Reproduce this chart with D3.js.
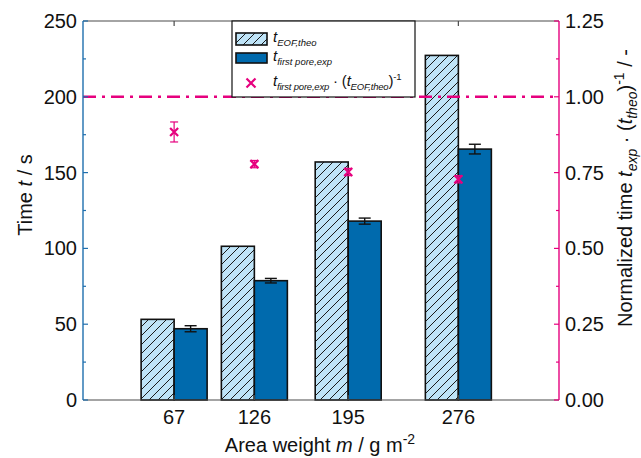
<!DOCTYPE html>
<html>
<head>
<meta charset="utf-8">
<script src="https://cdn.jsdelivr.net/npm/d3@7"></script>
<style>
  html, body { margin: 0; padding: 0; background: #fff; }
  svg { display: block; font-family: "Liberation Sans", Arial, Helvetica, sans-serif; }
</style>
</head>
<body>
<svg id="chart" width="641" height="458"></svg>
<script>
// Area weights of the samples (g m^-2)
const weights = [67, 126, 195, 276];
// Theoretical EOF time (s)
const tTheo = [53.2, 101.4, 157, 227.3];
// Measured time to first pore (s) and its deviation
const tExp = [47, 78.7, 118, 165.5];
const tExpErr = [2, 1.5, 2, 3.2];
// Normalised time t_exp / t_theo and its deviation
const ratio = [0.884, 0.778, 0.752, 0.728];
const ratioErr = [0.033, 0.012, 0.012, 0.012];
// Axis ticks
const leftTicks = [0, 50, 100, 150, 200, 250];
const rightTicks = [0, 0.25, 0.5, 0.75, 1.0, 1.25];
const referenceLevel = 1.0;

const PINK = "#e6007e";
const BLUE_AX = "#1f6fae";
const SOLID = "#006aad";
const LIGHT = "#bfe4f8";
const GREY = "#4a4a4a";
const FS = 20;

const svg = d3.select("#chart");
const L = 83, R = 559, T = 21, B = 400;

const x = d3.scaleLinear().domain([0, 350]).range([L, R]);
const y = d3.scaleLinear().domain([0, 250]).range([B, T]);
const y2 = d3.scaleLinear().domain([0, 1.25]).range([B, T]);

// hatch pattern
const defs = svg.append("defs");
const pat = defs.append("pattern")
  .attr("id", "hatch").attr("patternUnits", "userSpaceOnUse")
  .attr("width", 9).attr("height", 9);
pat.append("rect").attr("width", 9).attr("height", 9).attr("fill", LIGHT);
pat.append("path").attr("d", "M-2,2 L2,-2 M0,9 L9,0 M7,11 L11,7")
  .attr("stroke", "#1a1a1a").attr("stroke-width", 1);

const bw = 33;
const data = weights.map((w, i) => ({ w, theo: tTheo[i], exp: tExp[i], err: tExpErr[i], r: ratio[i], rErr: ratioErr[i] }));

// bars
const g = svg.append("g");
g.selectAll("rect.theo").data(data).join("rect")
  .attr("x", d => x(d.w) - bw).attr("width", bw)
  .attr("y", d => y(d.theo)).attr("height", d => y(0) - y(d.theo))
  .attr("fill", "url(#hatch)").attr("stroke", "#111").attr("stroke-width", 1.6);
g.selectAll("rect.exp").data(data).join("rect")
  .attr("x", d => x(d.w)).attr("width", bw)
  .attr("y", d => y(d.exp)).attr("height", d => y(0) - y(d.exp))
  .attr("fill", SOLID).attr("stroke", "#111").attr("stroke-width", 1.6);

// error bars on measured times
const eb = g.selectAll("g.eb").data(data).join("g")
  .attr("stroke", "#111").attr("stroke-width", 1.4);
eb.append("line").attr("x1", d => x(d.w) + bw / 2).attr("x2", d => x(d.w) + bw / 2)
  .attr("y1", d => y(d.exp - d.err)).attr("y2", d => y(d.exp + d.err));
[1, -1].forEach(s => {
  eb.append("line").attr("x1", d => x(d.w) + bw / 2 - 6).attr("x2", d => x(d.w) + bw / 2 + 6)
    .attr("y1", d => y(d.exp + s * d.err)).attr("y2", d => y(d.exp + s * d.err));
});

// reference line at 1.00
svg.append("line").attr("x1", L).attr("x2", R)
  .attr("y1", y2(referenceLevel)).attr("y2", y2(referenceLevel))
  .attr("stroke", PINK).attr("stroke-width", 2.6).attr("stroke-dasharray", "13,6,3,6");

// frame: top and bottom
svg.append("line").attr("x1", L).attr("x2", R).attr("y1", T).attr("y2", T).attr("stroke", GREY).attr("stroke-width", 1.2);
svg.append("line").attr("x1", L).attr("x2", R).attr("y1", B).attr("y2", B).attr("stroke", GREY).attr("stroke-width", 1.2);

// x ticks (inward, top and bottom)
weights.forEach(w => {
  svg.append("line").attr("x1", x(w)).attr("x2", x(w)).attr("y1", T).attr("y2", T + 5).attr("stroke", GREY).attr("stroke-width", 1.2);
  svg.append("line").attr("x1", x(w)).attr("x2", x(w)).attr("y1", B).attr("y2", B - 5).attr("stroke", GREY).attr("stroke-width", 1.2);
});
svg.append("g").selectAll("text").data(weights).join("text")
  .attr("x", d => x(d)).attr("y", 424).attr("text-anchor", "middle")
  .attr("font-size", FS).attr("fill", "#111").text(d => d);

// left axis
const la = svg.append("g");
la.append("line").attr("x1", L).attr("x2", L).attr("y1", T).attr("y2", B).attr("stroke", BLUE_AX).attr("stroke-width", 1.4);
d3.range(0, 251, 25).forEach(v => {
  const major = v % 50 === 0;
  la.append("line").attr("x1", L).attr("x2", L + (major ? 5 : 3)).attr("y1", y(v)).attr("y2", y(v))
    .attr("stroke", BLUE_AX).attr("stroke-width", 1.2);
});
la.selectAll("text").data(leftTicks).join("text")
  .attr("x", 77).attr("y", d => y(d) + 7).attr("text-anchor", "end")
  .attr("font-size", FS).attr("fill", "#111").text(d => d);

// right axis
const ra = svg.append("g");
ra.append("line").attr("x1", R).attr("x2", R).attr("y1", T).attr("y2", B).attr("stroke", PINK).attr("stroke-width", 1.4);
d3.range(0, 11).forEach(k => {
  const v = k * 0.125;
  const major = k % 2 === 0;
  ra.append("line").attr("x1", R).attr("x2", R - (major ? 5 : 3)).attr("y1", y2(v)).attr("y2", y2(v))
    .attr("stroke", PINK).attr("stroke-width", 1.2);
});
ra.selectAll("text").data(rightTicks).join("text")
  .attr("x", 565).attr("y", d => y2(d) + 7).attr("text-anchor", "start")
  .attr("font-size", FS).attr("fill", "#111").text(d => d3.format(".2f")(d));

// legend
const lg = svg.append("g");
lg.append("rect").attr("x", 232).attr("y", T).attr("width", 183).attr("height", 76)
  .attr("fill", "#fff").attr("stroke", "#111").attr("stroke-width", 1.2);
lg.append("rect").attr("x", 236).attr("y", 33).attr("width", 31).attr("height", 12)
  .attr("fill", "url(#hatch)").attr("stroke", "#111").attr("stroke-width", 1.6);
lg.append("rect").attr("x", 236).attr("y", 53).attr("width", 31).attr("height", 10)
  .attr("fill", SOLID).attr("stroke", "#111").attr("stroke-width", 1.6);

function xMark(sel, cx, cy, s) {
  sel.append("path")
    .attr("d", `M${cx - s},${cy - s}L${cx + s},${cy + s}M${cx - s},${cy + s}L${cx + s},${cy - s}`)
    .attr("stroke", PINK).attr("stroke-width", 2.2).attr("fill", "none");
}
xMark(lg, 251, 83, 4.5);

const LFS = 15, LSUB = 9.5;
function tSub(sel, xx, yy, sub) {
  const t = sel.append("text").attr("x", xx).attr("y", yy).attr("font-size", LFS).attr("fill", "#111")
    .attr("font-style", "italic");
  t.append("tspan").text("t");
  t.append("tspan").attr("font-size", LSUB).attr("dy", 4).text(sub);
  return t;
}
tSub(lg, 273, 42, "EOF,theo");
tSub(lg, 273, 61, "first pore,exp");
{
  const t = lg.append("text").attr("x", 273).attr("y", 86).attr("font-size", LFS).attr("fill", "#111")
    .attr("letter-spacing", -0.2);
  t.append("tspan").attr("font-style", "italic").text("t");
  t.append("tspan").attr("font-style", "italic").attr("font-size", LSUB).attr("dy", 4).text("first pore,exp");
  t.append("tspan").attr("dy", -4).text(" · (");
  t.append("tspan").attr("font-style", "italic").text("t");
  t.append("tspan").attr("font-style", "italic").attr("font-size", LSUB).attr("dy", 4).text("EOF,theo");
  t.append("tspan").attr("dy", -4).text(")");
  t.append("tspan").attr("font-size", LSUB).attr("dy", -6).text("-1");
}

// normalised-time markers with error bars
const mk = svg.append("g");
data.forEach(d => {
  const cx = x(d.w);
  mk.append("line").attr("x1", cx).attr("x2", cx).attr("y1", y2(d.r - d.rErr)).attr("y2", y2(d.r + d.rErr))
    .attr("stroke", PINK).attr("stroke-width", 1.2);
  [1, -1].forEach(s => mk.append("line").attr("x1", cx - 4).attr("x2", cx + 4)
    .attr("y1", y2(d.r + s * d.rErr)).attr("y2", y2(d.r + s * d.rErr)).attr("stroke", PINK).attr("stroke-width", 1.2));
  xMark(mk, cx, y2(d.r), 4);
});

// axis titles
{
  const t = svg.append("text").attr("transform", "translate(32,195) rotate(-90)")
    .attr("text-anchor", "middle").attr("font-size", FS).attr("fill", "#111");
  t.append("tspan").text("Time ");
  t.append("tspan").attr("font-style", "italic").text("t");
  t.append("tspan").text(" / s");
}
{
  const t = svg.append("text").attr("x", 320).attr("y", 452)
    .attr("text-anchor", "middle").attr("font-size", FS).attr("fill", "#111");
  t.append("tspan").text("Area weight ");
  t.append("tspan").attr("font-style", "italic").text("m");
  t.append("tspan").text(" / g m");
  t.append("tspan").attr("font-size", 14).attr("dy", -8).text("-2");
}
{
  const t = svg.append("text").attr("transform", "translate(632,188) rotate(-90)")
    .attr("text-anchor", "middle").attr("font-size", FS).attr("fill", "#111");
  t.append("tspan").text("Normalized time ");
  t.append("tspan").attr("font-style", "italic").text("t");
  t.append("tspan").attr("font-style", "italic").attr("font-size", 14).attr("dy", 5).text("exp");
  t.append("tspan").attr("dy", -5).text(" · (");
  t.append("tspan").attr("font-style", "italic").text("t");
  t.append("tspan").attr("font-style", "italic").attr("font-size", 14).attr("dy", 5).text("theo");
  t.append("tspan").attr("dy", -5).text(")");
  t.append("tspan").attr("font-size", 14).attr("dy", -8).text("-1");
  t.append("tspan").attr("dy", 8).text(" / -");
}
</script>
</body>
</html>
